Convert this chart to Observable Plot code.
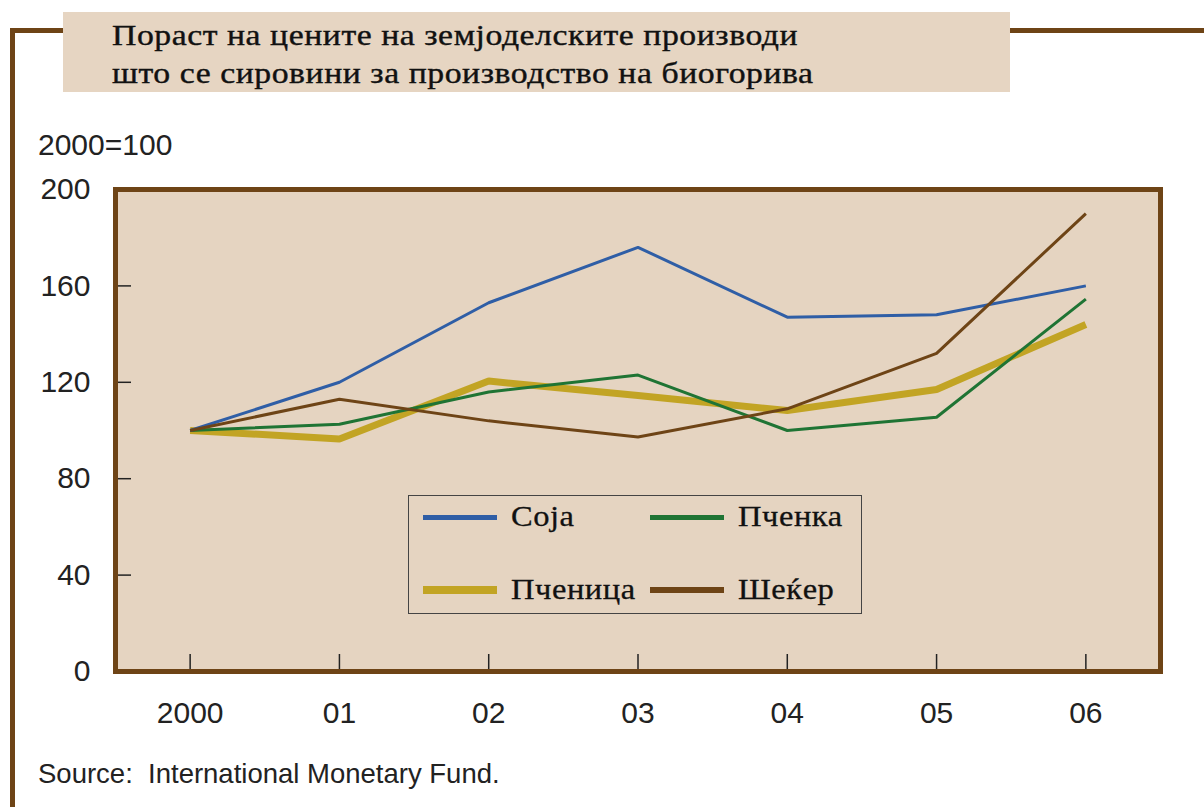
<!DOCTYPE html>
<html><head><meta charset="utf-8">
<script src="https://cdn.jsdelivr.net/npm/d3@7"></script>
<script src="https://cdn.jsdelivr.net/npm/@observablehq/plot@0.6"></script>
<style>
body{margin:0;background:#fff;}
#page{position:relative;width:1204px;height:807px;overflow:hidden;font-family:"Liberation Sans",Arial,sans-serif;color:#222;}
#outer{position:absolute;left:10px;top:28px;width:1300px;height:900px;border-top:5px solid #6e4416;border-left:5px solid #6e4416;}
#titlebox{position:absolute;left:63px;top:12px;width:947px;height:80px;background:#e6d5c2;}
#title{position:absolute;left:112px;top:16px;font-family:"Liberation Serif","Times New Roman",serif;font-size:30px;line-height:38px;letter-spacing:0.5px;color:#111;white-space:nowrap;-webkit-text-stroke:0.4px #111;transform:scaleX(1.123);transform-origin:0 0;}
#unit{position:absolute;left:38px;top:130px;font-size:30px;line-height:29px;}
#chart{position:absolute;left:0;top:150px;}
#legend{position:absolute;left:408px;top:495px;width:452px;height:117px;border:1.5px solid #444;background:#e5d4c1;font-family:"Liberation Serif","Times New Roman",serif;font-size:29px;letter-spacing:0.5px;color:#111;-webkit-text-stroke:0.3px #111;}
.item{position:absolute;height:30px;}
.sw{position:absolute;left:0;width:74px;}
.lab{position:absolute;left:88px;top:-1px;line-height:30px;white-space:nowrap;transform:scaleX(1.12);transform-origin:0 0;}
#source{position:absolute;left:38px;top:760px;font-size:27.5px;line-height:27px;white-space:pre;}
</style></head>
<body><div id="page">
<div id="outer"></div>
<div id="titlebox"></div>
<div id="title"></div>
<div id="unit"></div>
<div id="chart"></div>
<div id="legend"></div>
<div id="source"></div>
</div>
<script>
const titleLines = ["Пораст на цените на земјоделските производи", "што се сировини за производство на биогорива"];
const unitLabel = "2000=100";
const sourceText = "Source:  International Monetary Fund.";
const years = [2000, 2001, 2002, 2003, 2004, 2005, 2006];
const yearLabels = ["2000", "01", "02", "03", "04", "05", "06"];
const yTicks = [0, 40, 80, 120, 160, 200];
const seriesNames = ["Соја", "Пченка", "Пченица", "Шеќер"];
const soja    = [100, 120, 153, 176, 147, 148, 160];
const pchenka = [100, 102.6, 116, 123, 100, 105.5, 154.5];
const pchenica= [100, 96.5, 120.5, 114.5, 108.3, 117, 144];
const sheker  = [100, 113, 104, 97.3, 109, 132, 190];
const colors  = ["#2f5ea6", "#1f7434", "#c2a424", "#6e4416"];
const widths  = [3, 3, 7, 3];
const swatchWidths = [5, 5, 8, 6];
const drawOrder = [2, 1, 0, 3];

const values = [soja, pchenka, pchenica, sheker];
const rows = [];
seriesNames.forEach((s, i) => years.forEach((y, j) => rows.push({series: s, year: y, value: values[i][j]})));

document.getElementById("title").innerHTML = titleLines.join("<br>");
document.getElementById("unit").textContent = unitLabel;
document.getElementById("source").textContent = sourceText;

const W = 1204, H = 600;
const mL = 115, mR = 44, mT = 39, mB = 79;
const innerH = H - mT - mB, innerW = W - mL - mR;

const marks = [
  Plot.frame({fill: "#e5d4c1"}),
  ...drawOrder.map(i => Plot.lineY(rows.filter(d => d.series === seriesNames[i]), {
    x: "year", y: "value", stroke: colors[i], strokeWidth: widths[i], strokeLinejoin: "miter", strokeLinecap: "butt"
  })),
  Plot.tickX(years, {x: d => d, insetTop: innerH - 17, stroke: "#222", strokeWidth: 1.5}),
  Plot.tickY(yTicks, {y: d => d, insetRight: innerW - 16, stroke: "#222", strokeWidth: 1.5}),
  Plot.frame({stroke: "#6e4416", strokeWidth: 5}),
  Plot.axisX({ticks: years, tickSize: 0, tickPadding: 30, tickFormat: d => yearLabels[years.indexOf(d)], fontSize: 30, fill: "#222"}),
  Plot.axisY({ticks: yTicks, tickSize: 0, tickPadding: 25, fontSize: 30, fill: "#222"})
];

const chart = Plot.plot({
  width: W, height: H,
  marginLeft: mL, marginRight: mR, marginTop: mT, marginBottom: mB,
  x: {domain: [1999.5, 2006.5], label: null},
  y: {domain: [0, 200], label: null},
  style: {fontFamily: "'Liberation Sans', Arial, sans-serif", background: "transparent", overflow: "visible"},
  marks
});
document.getElementById("chart").appendChild(chart);

// legend
const legend = document.getElementById("legend");
const pos = [[14, 6], [241, 6], [14, 79], [241, 79]];
seriesNames.forEach((s, i) => {
  const it = document.createElement("div");
  it.className = "item";
  it.style.left = pos[i][0] + "px";
  it.style.top = pos[i][1] + "px";
  it.style.width = "220px";
  const sw = document.createElement("div");
  sw.className = "sw";
  sw.style.background = colors[i];
  sw.style.height = swatchWidths[i] + "px";
  sw.style.top = (15 - swatchWidths[i] / 2) + "px";
  const lab = document.createElement("div");
  lab.className = "lab";
  lab.textContent = s;
  it.appendChild(sw); it.appendChild(lab);
  legend.appendChild(it);
});
</script>
</body></html>
